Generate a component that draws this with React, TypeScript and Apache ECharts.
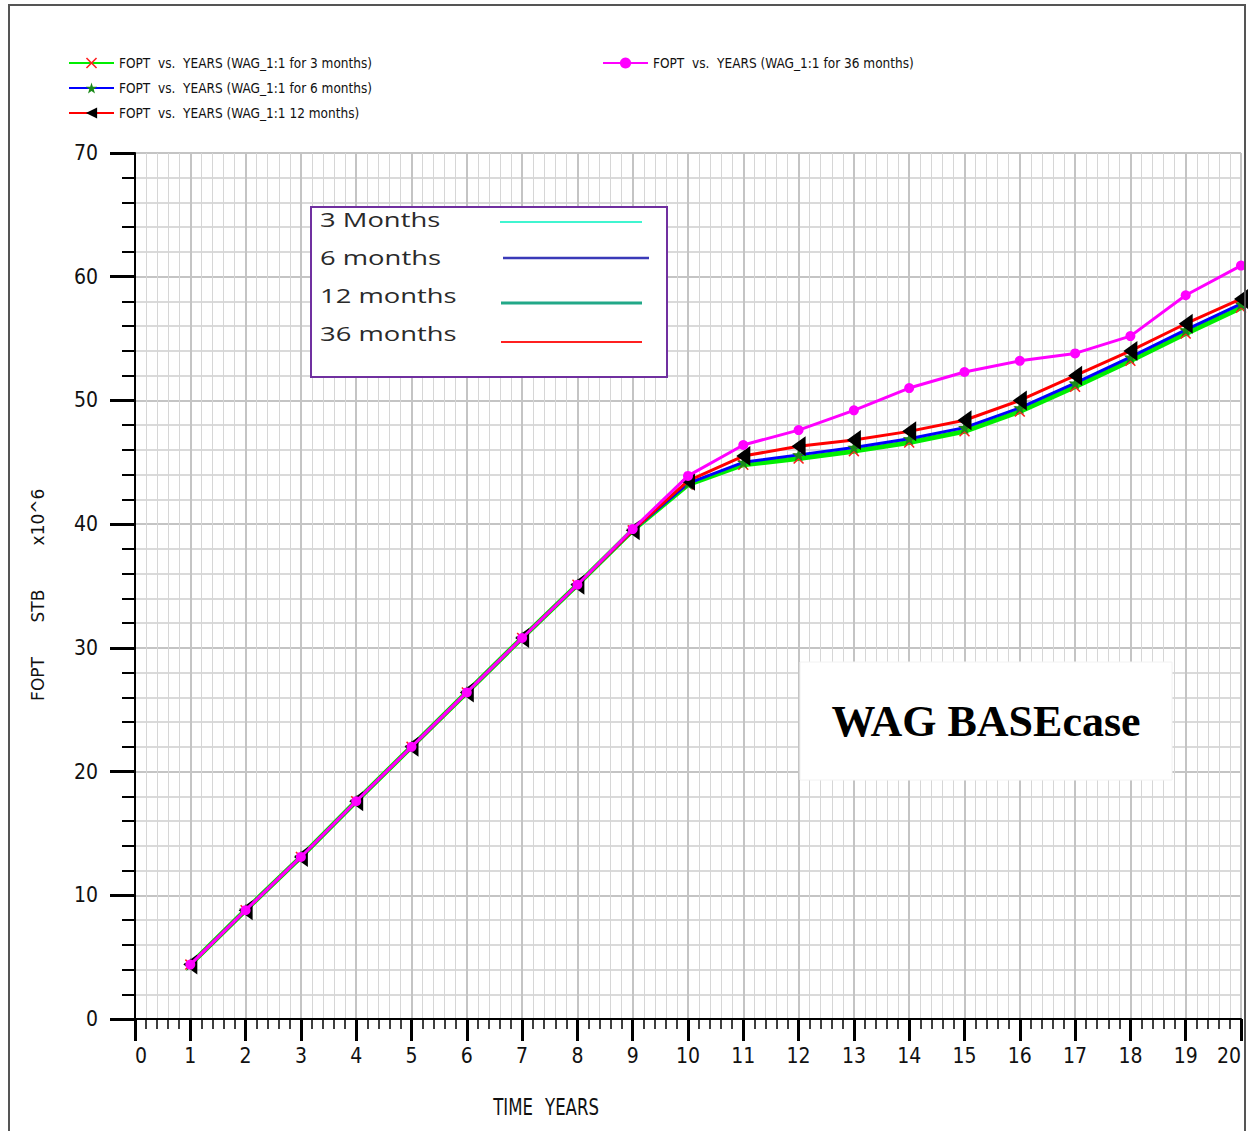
import React, { useEffect, useRef } from "react";
import * as echarts from "echarts";

const years = [1, 2, 3, 4, 5, 6, 7, 8, 9, 10, 11, 12, 13, 14, 15, 16, 17, 18, 19, 20];
const m3 = [4.4, 8.8, 13.1, 17.6, 22.0, 26.4, 30.8, 35.1, 39.5, 43.2, 44.8, 45.3, 45.9, 46.6, 47.5, 49.1, 51.1, 53.2, 55.4, 57.5];
const m6 = [4.4, 8.8, 13.1, 17.6, 22.0, 26.4, 30.8, 35.1, 39.5, 43.3, 45.0, 45.6, 46.2, 46.9, 47.8, 49.4, 51.4, 53.5, 55.7, 57.8];
const m12 = [4.4, 8.8, 13.1, 17.6, 22.0, 26.4, 30.8, 35.1, 39.5, 43.5, 45.5, 46.3, 46.8, 47.5, 48.4, 50.0, 52.0, 54.0, 56.2, 58.2];
const m36 = [4.4, 8.8, 13.1, 17.6, 22.0, 26.4, 30.8, 35.1, 39.6, 43.9, 46.4, 47.6, 49.2, 51.0, 52.3, 53.2, 53.8, 55.2, 58.5, 60.9];

const seriesNames = [
  "FOPT  vs.  YEARS (WAG_1:1 for 3 months)",
  "FOPT  vs.  YEARS (WAG_1:1 for 6 months)",
  "FOPT  vs.  YEARS (WAG_1:1 12 months)",
  "FOPT  vs.  YEARS (WAG_1:1 for 36 months)",
];
const boxLabels = ["3 Months", "6 months", "12 months", "36 months"];

const NARROW = "'Liberation Sans Narrow', 'DejaVu Sans Condensed', 'Arial Narrow', sans-serif";

const zip = (xs: number[], ys: number[]) => xs.map((x, i) => [x, ys[i]]);

export default function App() {
  const ref = useRef<HTMLDivElement>(null);
  useEffect(() => {
    document.body.style.margin = "0";
    const chart = echarts.init(ref.current!, null, { renderer: "svg" });
    const crossSym = "path://M0,1L1,0L5,4L9,0L10,1L6,5L10,9L9,10L5,6L1,10L0,9L4,5Z";
    const starSym = "path://M5,0L6.2,3.6L10,3.6L7,5.9L8.1,9.5L5,7.3L1.9,9.5L3,5.9L0,3.6L3.8,3.6Z";
    const triSym = "path://M0,6L10,0L10,12Z";
    const legendText = { fontFamily: NARROW, fontSize: 13.5, color: "#111" };
    const option: any = {
      animation: false,
      backgroundColor: "#ffffff",
      legend: [
        {
          data: [seriesNames[0], seriesNames[1], seriesNames[2]],
          orient: "vertical",
          left: 63,
          top: 51,
          itemWidth: 45,
          itemHeight: 14,
          itemGap: 11,
          textStyle: legendText,
        },
        {
          data: [seriesNames[3]],
          orient: "vertical",
          left: 597,
          top: 51,
          itemWidth: 45,
          itemHeight: 14,
          textStyle: legendText,
        },
      ],
      grid: { left: 135, top: 153, width: 1106, height: 866, containLabel: false },
      xAxis: {
        type: "value",
        min: 0,
        max: 20,
        interval: 1,
        axisLine: { show: true, onZero: false, lineStyle: { color: "#000", width: 2 } },
        axisTick: { show: true, length: 22, lineStyle: { color: "#000", width: 3 } },
        minorTick: { show: true, splitNumber: 5, length: 10, lineStyle: { color: "#000", width: 1.5 } },
        splitLine: { show: true, lineStyle: { color: "#c4c4c4", width: 2 } },
        minorSplitLine: { show: true, lineStyle: { color: "#d6d6d6", width: 1 } },
        axisLabel: {
          margin: 26,
          fontFamily: NARROW,
          fontSize: 21,
          color: "#111",
          alignMinLabel: "left",
          alignMaxLabel: "right",
        },
      },
      yAxis: {
        type: "value",
        min: 0,
        max: 70,
        interval: 10,
        axisLine: { show: true, onZero: false, lineStyle: { color: "#000", width: 2 } },
        axisTick: { show: true, length: 25, lineStyle: { color: "#000", width: 3 } },
        minorTick: { show: true, splitNumber: 5, length: 13, lineStyle: { color: "#000", width: 2 } },
        splitLine: { show: true, lineStyle: { color: "#c4c4c4", width: 2 } },
        minorSplitLine: { show: true, lineStyle: { color: "#cecece", width: 1.5 } },
        axisLabel: { margin: 37, fontFamily: NARROW, fontSize: 21, color: "#111" },
      },
      series: [
        {
          name: seriesNames[0],
          type: "line",
          data: zip(years, m3),
          symbol: crossSym,
          symbolSize: 11,
          lineStyle: { color: "#00ee00", width: 5 },
          itemStyle: { color: "#ff2020" },
          z: 2,
        },
        {
          name: seriesNames[1],
          type: "line",
          data: zip(years, m6),
          symbol: starSym,
          symbolSize: 13,
          lineStyle: { color: "#0000ff", width: 3 },
          itemStyle: { color: "#1a8a1a" },
          z: 3,
        },
        {
          name: seriesNames[2],
          type: "line",
          data: zip(years, m12),
          symbol: triSym,
          symbolSize: [14, 20],
          lineStyle: { color: "#ff0000", width: 3 },
          itemStyle: { color: "#000000" },
          z: 4,
        },
        {
          name: seriesNames[3],
          type: "line",
          data: zip(years, m36),
          symbol: "circle",
          symbolSize: 10,
          lineStyle: { color: "#ff00ff", width: 3 },
          itemStyle: { color: "#ff00ff" },
          z: 5,
        },
      ],
      graphic: [
        {
          type: "rect",
          z: 200,
          shape: { x: 9, y: 5, width: 1236, height: 1140 },
          style: { fill: "none", stroke: "#555", lineWidth: 2 },
        },
        {
          type: "rect",
          z: 100,
          shape: { x: 311, y: 207, width: 356, height: 170 },
          style: { fill: "#ffffff", stroke: "#7030a0", lineWidth: 2 },
        },
        ...boxLabels.map((t, i) => ({
          type: "text",
          z: 101,
          x: 320,
          y: [219, 257, 295, 333][i],
          scaleX: 1.37,
          style: {
            text: t,
            fontFamily: "'Open Sans', Lato, sans-serif",
            fontSize: 20,
            fill: "#2a2a2a",
            verticalAlign: "middle",
          },
        })),
        { type: "line", z: 101, shape: { x1: 500, y1: 222, x2: 642, y2: 222 }, style: { stroke: "#40f5d0", lineWidth: 2 } },
        { type: "line", z: 101, shape: { x1: 503, y1: 258, x2: 649, y2: 258 }, style: { stroke: "#3a3ab8", lineWidth: 2.5 } },
        { type: "line", z: 101, shape: { x1: 501, y1: 303, x2: 642, y2: 303 }, style: { stroke: "#22a888", lineWidth: 3 } },
        { type: "line", z: 101, shape: { x1: 501, y1: 342, x2: 642, y2: 342 }, style: { stroke: "#ff2020", lineWidth: 2 } },
        {
          type: "rect",
          z: 100,
          shape: { x: 800, y: 662, width: 372, height: 118 },
          style: { fill: "#ffffff", stroke: "#f2f2f2", lineWidth: 1 },
        },
        {
          type: "text",
          z: 101,
          x: 986,
          y: 721,
          style: {
            text: "WAG BASEcase",
            fontFamily: "'Liberation Serif', 'Times New Roman', serif",
            fontWeight: "bold",
            fontSize: 44,
            fill: "#000",
            align: "center",
            verticalAlign: "middle",
          },
        },
        ...[
          ["FOPT", 679],
          ["STB", 606],
          ["x10^6", 517],
        ].map(([t, cy]) => ({
          type: "text",
          z: 101,
          x: 38,
          y: cy as number,
          rotation: Math.PI / 2,
          style: {
            text: t as string,
            fontFamily: "'DejaVu Sans', sans-serif",
            fontSize: 17,
            fill: "#111",
            align: "center",
            verticalAlign: "middle",
          },
        })),
        {
          type: "text",
          z: 101,
          x: 513,
          y: 1107,
          scaleX: 0.8,
          style: { text: "TIME", fontFamily: NARROW, fontSize: 23, fill: "#111", align: "center", verticalAlign: "middle" },
        },
        {
          type: "text",
          z: 101,
          x: 572,
          y: 1107,
          scaleX: 0.8,
          style: { text: "YEARS", fontFamily: NARROW, fontSize: 23, fill: "#111", align: "center", verticalAlign: "middle" },
        },
      ],
    };
    chart.setOption(option);
    return () => chart.dispose();
  }, []);
  return <div ref={ref} style={{ position: "absolute", left: 0, top: 0, width: 1253, height: 1131 }} />;
}
